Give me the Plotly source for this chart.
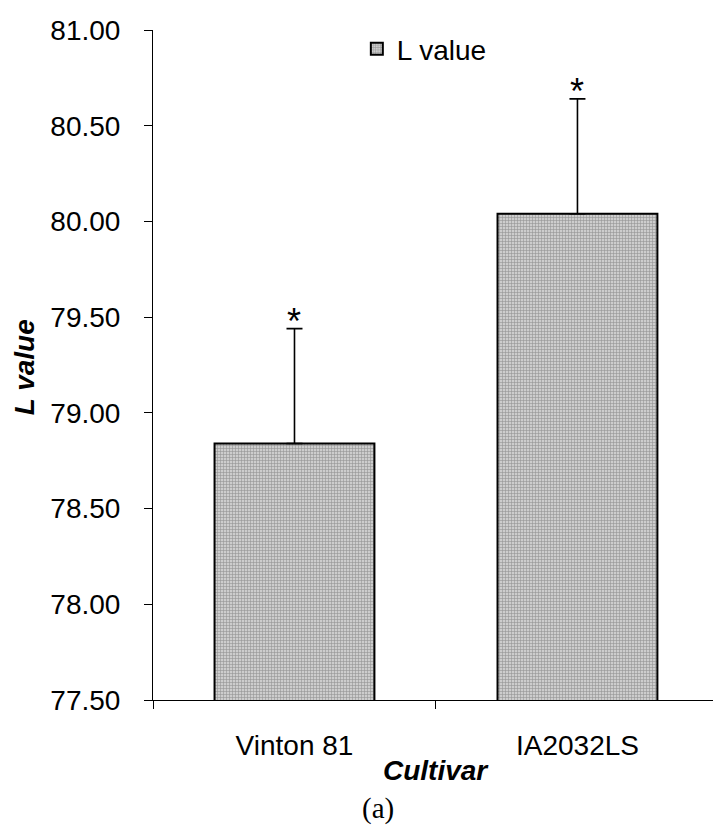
import plotly.graph_objects as go

# L value by cultivar, with upper standard-error bars
cultivars = ["Vinton 81", "IA2032LS"]
l_values = [78.84, 80.04]
l_errors = [0.60, 0.60]
sig_marks = ["*", "*"]
y_ticks = [77.5, 78.0, 78.5, 79.0, 79.5, 80.0, 80.5, 81.0]

SANS = "Liberation Sans, Arial, sans-serif"
SERIF = "Liberation Serif, Times New Roman, serif"

fig = go.Figure()
fig.add_trace(go.Bar(
    x=cultivars,
    y=l_values,
    name="L value",
    width=0.565,
    marker=dict(
        color="#c4c4c4",
        line=dict(color="black", width=2),
        pattern=dict(shape="+", size=3, solidity=0.35,
                     fgcolor="#5a5a5a", bgcolor="#cdcdcd", fillmode="overlay"),
    ),
    error_y=dict(type="data", array=l_errors, arrayminus=[0] * len(l_errors),
                 symmetric=False, color="black", thickness=1.6, width=8),
))

# significance markers above the error bars
for c, v, e, s in zip(cultivars, l_values, l_errors, sig_marks):
    fig.add_annotation(x=c, y=v + e, text=s, showarrow=False,
                       yanchor="bottom", yshift=-15,
                       font=dict(family=SANS, size=36, color="black"))

# axis titles and panel label
fig.add_annotation(x=0.5, xref="x", y=0, yref="paper", yshift=-70,
                   yanchor="middle", text="<b><i>Cultivar</i></b>",
                   showarrow=False, font=dict(family=SANS, size=28, color="black"))
fig.add_annotation(x=-0.23, xref="paper", y=0.497, yref="paper",
                   text="<b><i>L value</i></b>", textangle=-90, showarrow=False,
                   xanchor="center", yanchor="middle",
                   font=dict(family=SANS, size=28, color="black"))
fig.add_annotation(x=0.402, xref="paper", y=0, yref="paper", yshift=-108,
                   yanchor="middle", text="(a)", showarrow=False,
                   font=dict(family=SERIF, size=29, color="black"))

fig.update_layout(
    width=713, height=836,
    margin=dict(l=153, r=0, t=30, b=136),
    paper_bgcolor="white", plot_bgcolor="white",
    font=dict(family=SANS, size=28, color="black"),
    showlegend=True,
    legend=dict(x=0.364, y=0.9716, xanchor="left", yanchor="middle",
                bgcolor="rgba(0,0,0,0)", font=dict(family=SANS, size=28),
                itemwidth=30),
)
fig.update_xaxes(
    type="category", range=[-0.5, 1.479], tickson="boundaries",
    ticks="outside", ticklen=8, tickcolor="black", tickwidth=1,
    showline=True, linecolor="black", linewidth=1,
    showgrid=False, ticklabelstandoff=20,
    tickfont=dict(family=SANS, size=28, color="black"),
)
fig.update_yaxes(
    range=[77.5, 81.0], tickvals=y_ticks, tickformat=".2f",
    ticks="outside", ticklen=8, tickcolor="black", tickwidth=1,
    showline=True, linecolor="black", linewidth=1,
    showgrid=False, zeroline=False, ticklabelstandoff=18,
    tickfont=dict(family=SANS, size=28, color="black"),
)

fig.write_html("out.html")
